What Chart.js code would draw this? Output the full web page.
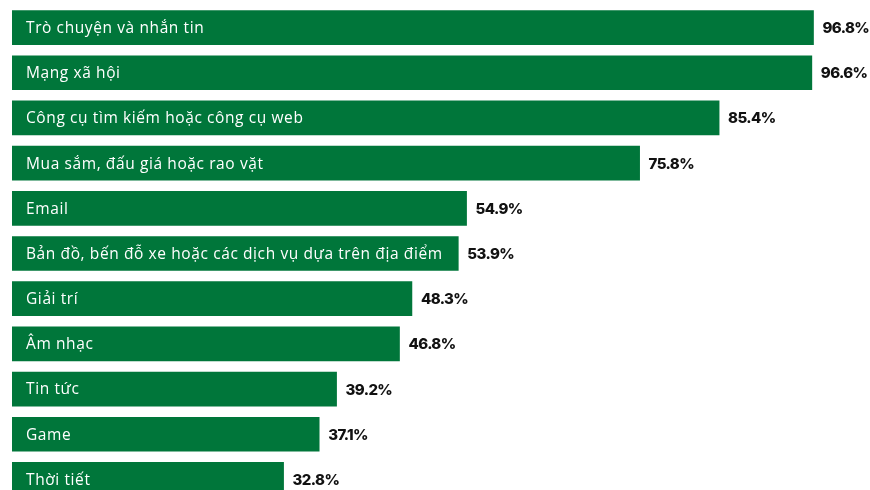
<!DOCTYPE html>
<html>
<head>
<meta charset="utf-8">
<script src="https://cdn.jsdelivr.net/npm/chart.js@4.4.1/dist/chart.umd.min.js"></script>
<style>
  html, body { margin: 0; padding: 0; background: #ffffff; overflow: hidden; }
  #wrap { position: relative; width: 870px; height: 502px; }
</style>
</head>
<body>
<div id="wrap"><canvas id="chart"></canvas></div>
<script>
// Mục đích sử dụng Internet (% người dùng)
const categories = [
  'Trò chuyện và nhắn tin',
  'Mạng xã hội',
  'Công cụ tìm kiếm hoặc công cụ web',
  'Mua sắm, đấu giá hoặc rao vặt',
  'Email',
  'Bản đồ, bến đỗ xe hoặc các dịch vụ dựa trên địa điểm',
  'Giải trí',
  'Âm nhạc',
  'Tin tức',
  'Game',
  'Thời tiết'
];
const shares = [96.8, 96.6, 85.4, 75.8, 54.9, 53.9, 48.3, 46.8, 39.2, 37.1, 32.8];

const barGreen = '#00763a';

// Writes the category name inside each bar and the percentage just after it
const barLabels = {
  id: 'barLabels',
  afterDatasetsDraw(chart) {
    const { ctx } = chart;
    const meta = chart.getDatasetMeta(0);
    ctx.save();
    ctx.textBaseline = 'middle';
    meta.data.forEach((bar, i) => {
      ctx.fillStyle = '#ffffff';
      ctx.font = '15.5px "Open Sans", sans-serif';
      ctx.letterSpacing = '0.6px';
      ctx.textAlign = 'left';
      ctx.fillText(categories[i], bar.base + 14, bar.y + 1);
      ctx.fillStyle = '#111111';
      ctx.font = '800 15px "Inter", sans-serif';
      ctx.letterSpacing = '-0.6px';
      ctx.fillText(shares[i].toFixed(1) + '%', bar.x + 9, bar.y + 1);
    });
    ctx.restore();
  }
};

new Chart(document.getElementById('chart'), {
  type: 'bar',
  data: {
    labels: categories,
    datasets: [{
      data: shares,
      backgroundColor: barGreen,
      borderWidth: 0,
      barThickness: 34
    }]
  },
  options: {
    indexAxis: 'y',
    responsive: true,
    maintainAspectRatio: false,
    animation: false,
    layout: { padding: { left: 12, right: 30, top: 5, bottom: 0 } },
    plugins: {
      legend: { display: false },
      tooltip: { enabled: false }
    },
    scales: {
      x: { display: false, min: 0, max: 100 },
      y: { display: false }
    }
  },
  plugins: [barLabels]
});
</script>
</body>
</html>
